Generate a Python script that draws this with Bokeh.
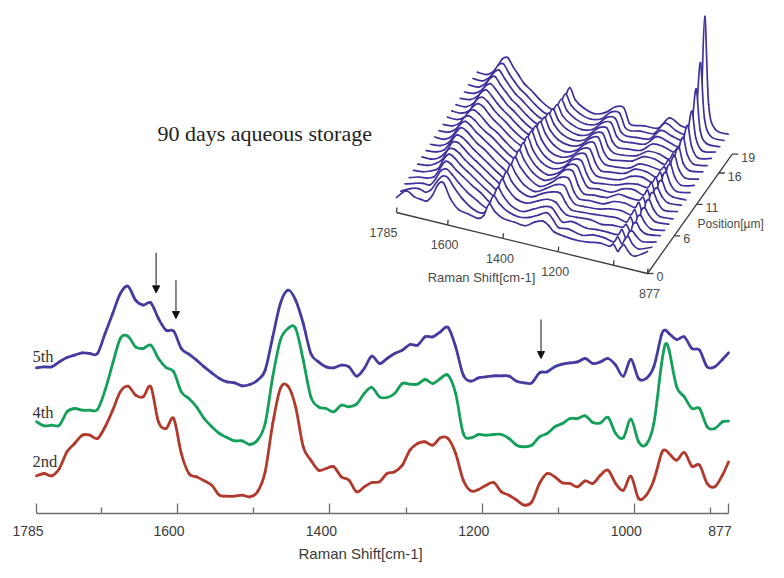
from bokeh.embed import file_html
from bokeh.resources import INLINE
from bokeh.plotting import figure
from bokeh.models import (Range1d, LinearAxis, FixedTicker, Label, Arrow, NormalHead, Title)

# ---------- main spectra ----------
shift = [1785,1775,1765,1755,1745,1735,1725,1715,1705,1695,1685,1675,1665,1655,1645,1635,1625,1615,1605,1595,
         1585,1575,1565,1555,1545,1535,1525,1515,1505,1495,1485,1475,1465,1455,1445,1435,1425,1415,1405,1395,
         1385,1375,1365,1355,1345,1335,1325,1315,1305,1295,1285,1275,1265,1255,1245,1235,1225,1215,1205,1195,
         1185,1175,1165,1155,1145,1135,1125,1115,1105,1095,1085,1075,1065,1055,1045,1035,1025,1015,1005,995,
         985,975,965,960,955,945,935,925,915,905,895,885,877]
y_5th = [437,440,440,455,468,475,482,480,480,540,600,660,682,640,625,632,585,550,547,495,
         478,460,440,422,405,395,392,383,387,400,430,530,630,670,640,570,480,455,440,437,
         445,440,412,435,472,450,465,480,490,507,505,530,530,545,558,500,415,397,407,
         410,413,413,412,397,392,392,422,425,440,448,452,455,465,450,455,465,445,412,462,
         405,405,440,535,550,540,522,530,495,490,440,440,462,482]
y_4th = [275,263,265,265,305,315,310,310,312,370,450,525,532,500,495,505,465,438,425,365,
         345,320,285,260,240,228,218,218,207,220,270,410,520,555,555,460,350,320,315,305,
         325,320,328,360,378,350,348,360,390,388,388,402,390,405,415,360,240,227,237,
         235,237,237,225,205,200,205,230,240,260,270,285,285,293,273,272,288,240,227,283,
         215,207,270,447,507,490,380,350,315,315,260,255,275,277]
y_2nd = [113,120,113,135,185,210,235,235,225,260,310,365,382,355,350,380,275,255,285,180,
         120,110,98,85,55,52,52,55,50,65,125,270,375,382,320,200,160,130,135,140,
         110,100,65,80,93,95,120,125,145,190,210,215,205,227,225,180,100,68,72,85,
         93,65,55,40,25,35,90,120,110,92,90,80,98,90,115,130,90,70,112,45,
         55,100,180,190,180,160,183,142,145,90,80,115,155]
series_names = ["5th", "4th", "2nd"]
series_data = [y_5th, y_4th, y_2nd]
series_colors = ["#453c9f", "#14a05a", "#b23a2c"]
series_label_y = [356, 412, 461]
series_label_x = [32, 32, 32]

tick_major = [1785, 1600, 1400, 1200, 1000, 877]
tick_minor = [1700, 1500, 1300, 1100, 900]

# arrows: shift, intensity at tail and at tip
arrow_shift = [1628, 1602, 1123]
arrow_from = [782, 700, 582]
arrow_to = [662, 585, 465]

# ---------- inset waterfall: intensity by position (front to back) ----------
w_shift = [1785,1750,1720,1695,1675,1655,1635,1615,1590,1560,1525,1490,1470,1450,1430,1400,1360,1320,1285,1255,
           1235,1215,1180,1130,1090,1050,1015,1000,985,975,962,948,925,877]
w_rows = [
 [15,24,20,19,19,26,38,41,27,18,16,14,18,31,25,20,19,18,24,27,24,19,17,16,17,19,18,21,15,19,23,18,14,22],
 [15,20,22,20,24,33,40,40,31,22,15,13,19,33,27,21,18,20,25,29,24,17,18,15,18,18,16,22,16,21,25,19,15,20],
 [16,19,21,21,28,38,41,37,30,23,17,12,20,35,28,20,17,22,27,28,22,16,19,16,17,17,17,23,15,22,24,20,16,19],
 [16,19,20,23,32,41,40,35,30,24,18,11,21,37,29,21,19,24,28,27,21,17,17,18,16,18,18,22,16,24,26,20,17,19],
 [17,18,21,25,36,42,39,34,29,23,16,11,22,38,30,22,19,25,29,30,22,16,16,17,18,19,17,23,15,25,27,21,16,18],
 [17,18,22,28,39,41,38,33,28,22,15,10,23,39,31,22,18,24,30,31,21,15,15,16,19,20,18,24,14,26,28,22,17,18],
 [18,18,22,30,40,41,37,32,27,21,14,9,24,40,32,23,17,23,31,32,20,14,15,15,20,21,19,25,13,27,30,22,16,17],
 [18,19,23,33,41,40,36,31,26,20,13,9,25,41,32,22,17,22,32,33,20,13,14,15,21,20,20,24,14,28,31,23,16,18],
 [18,19,24,35,42,40,35,30,26,19,12,8,26,42,31,21,16,21,31,32,21,13,14,14,20,22,19,25,14,27,29,22,17,18],
 [19,19,25,37,42,39,34,30,25,19,12,8,27,42,30,20,16,20,30,31,19,12,13,15,19,21,20,26,13,28,30,21,17,17],
 [19,20,26,38,41,38,33,29,25,18,11,9,28,41,29,19,15,20,29,31,18,12,12,14,20,22,19,25,13,29,32,22,16,18],
 [19,20,26,37,41,38,33,28,24,17,10,9,27,40,28,18,15,19,28,30,18,11,12,14,21,21,18,24,13,30,34,23,16,19],
 [20,20,25,36,41,39,33,28,23,16,10,8,26,38,27,18,14,18,27,30,17,11,11,13,20,20,19,23,14,31,36,24,17,19],
 [20,20,25,37,41,38,32,27,22,15,9,8,24,36,25,17,14,17,26,29,16,10,11,14,21,21,18,24,14,33,38,24,18,20],
 [20,20,26,38,42,37,31,26,21,14,8,8,22,34,24,16,13,16,25,27,15,10,10,13,20,20,17,23,14,35,42,26,18,20],
 [20,21,27,38,42,37,31,25,20,13,7,7,20,32,22,15,12,15,24,26,14,9,10,12,21,21,18,22,14,36,48,28,18,21],
 [20,21,27,39,43,36,30,24,19,12,6,6,18,30,20,14,11,14,23,25,13,9,10,12,22,20,17,21,15,38,56,30,19,21],
 [21,21,28,39,43,36,29,23,18,11,5,5,17,29,19,13,10,13,22,23,11,8,9,11,22,19,17,20,15,42,72,32,20,20],
 [21,21,28,40,43,35,28,22,17,10,4,4,16,28,18,12,9,12,21,22,9,7,9,10,23,18,16,19,16,48,92,38,21,20],
 [21,21,28,40,43,35,28,21,16,9,3,3,15,28,17,11,8,12,20,21,7,6,8,9,22,17,16,18,17,40,132,45,22,20],
]
inset_shift_ticks = [1785, 1600, 1400, 1200, 1000, 877]
inset_shift_labels = ["1785", "1600", "1400", "1200", "", "877"]
inset_pos_ticks = [0, 6, 11, 16, 19]

PX_PER_CM = 692 / 908
W, H, AXIS_PX = 784, 578, 513

p = figure(width=W, height=H, output_backend="svg", toolbar_location=None,
           min_border_left=0, min_border_right=0, min_border_top=0, min_border_bottom=H - AXIS_PX,
           x_range=Range1d(1785 + 36 / PX_PER_CM, 877 - (W - 728) / PX_PER_CM),
           y_range=Range1d(0, AXIS_PX * 3), x_axis_type=None, y_axis_type=None)
p.outline_line_color = None
p.grid.visible = False
p.background_fill_color = "#ffffff"
p.extra_x_ranges["sx"] = Range1d(0, W)
p.extra_y_ranges["sy"] = Range1d(AXIS_PX, 0)

# main axis: tick marks
ax = LinearAxis(ticker=FixedTicker(ticks=tick_major, minor_ticks=tick_minor), bounds=(877, 1785))
ax.major_tick_in, ax.major_tick_out = 10, 0
ax.minor_tick_in, ax.minor_tick_out = 6, 0
ax.axis_line_color = ax.major_tick_line_color = ax.minor_tick_line_color = "#6e6e6e"
ax.axis_line_width = ax.major_tick_line_width = ax.minor_tick_line_width = 1.3
ax.major_label_overrides = {t: "" for t in tick_major}
ax.major_label_standoff = 0
ax.major_label_text_font_size = "1px"
p.add_layout(ax, "below")

# main axis: labels, which sit a little left of their ticks in the reference
LABEL_SHIFT = 8.5 / PX_PER_CM
ax2_ticks = [t + LABEL_SHIFT for t in tick_major]
ax2 = LinearAxis(ticker=FixedTicker(ticks=ax2_ticks))
ax2.major_label_overrides = {a: str(t) for a, t in zip(ax2_ticks, tick_major)}
ax2.axis_line_color = None
ax2.major_tick_line_color = None
ax2.minor_tick_line_color = None
ax2.major_tick_in = ax2.major_tick_out = 0
ax2.major_label_standoff = 12
ax2.major_label_text_font = "Liberation Sans"
ax2.major_label_text_font_size = "14px"
ax2.major_label_text_color = "#3a3a3a"
p.add_layout(ax2, "below")

p.add_layout(Title(text="Raman Shift[cm-1]", align="left", offset=298, standoff=9,
                   text_font="Liberation Sans", text_font_size="15px", text_font_style="normal",
                   text_color="#3a3a3a"), "below")


def smooth(xs, ys):
    """Cubic segments through the given points, so that lines are drawn as curves."""
    n = len(xs)
    x0, y0, x1, y1, cx0, cy0, cx1, cy1 = [], [], [], [], [], [], [], []
    for i in range(n - 1):
        a = max(i - 1, 0); d = min(i + 2, n - 1)
        x0.append(xs[i]); y0.append(ys[i]); x1.append(xs[i + 1]); y1.append(ys[i + 1])
        cx0.append(xs[i] + (xs[i + 1] - xs[a]) / 6); cy0.append(ys[i] + (ys[i + 1] - ys[a]) / 6)
        cx1.append(xs[i + 1] - (xs[d] - xs[i]) / 6); cy1.append(ys[i + 1] - (ys[d] - ys[i]) / 6)
    return dict(x0=x0, y0=y0, x1=x1, y1=y1, cx0=cx0, cy0=cy0, cx1=cx1, cy1=cy1)


# main spectra
for data, color in zip(series_data, series_colors):
    assert len(data) == len(shift)
    p.bezier(**smooth(shift, data), line_color=color, line_width=2.8, line_cap="round")

# arrows
for s, a, b in zip(arrow_shift, arrow_from, arrow_to):
    p.add_layout(Arrow(end=NormalHead(size=7, fill_color="#111111", line_color="#111111"),
                       x_start=s, y_start=a, x_end=s, y_end=b,
                       line_color="#555555", line_width=1.4))


# inset projection
def proj(s, pos, intensity=0, dx=4.25):
    f = (1785 - s) / 908
    return 396 + f * 251 + pos * dx, 212 + f * 61 - pos * 6.28 - intensity


SCENE = dict(x_range_name="sx", y_range_name="sy")
for i in range(len(w_rows) - 1, -1, -1):
    row = w_rows[i]
    top = [proj(s, i, v) for s, v in zip(w_shift, row)]
    base = [proj(s, i, 0) for s in reversed(w_shift)]
    p.patch([q[0] for q in top + base], [q[1] for q in top + base],
            fill_color="#ffffff", line_color=None, **SCENE)
    p.bezier(**smooth([q[0] for q in top], [q[1] for q in top]), line_color="#3e319c",
             line_width=1.7, line_cap="round", **SCENE)

# inset axes
axis_col = "#3c3c3c"
a0 = proj(1785, 0, 0, 4.46); a1 = proj(877, 0, 0, 4.46); a2 = proj(877, 19, 0, 4.46)
p.line([a0[0], a1[0], a2[0]], [a0[1], a1[1], a2[1]], line_color=axis_col, line_width=1.3, **SCENE)
for s in inset_shift_ticks:
    q = proj(s, 0, 0, 4.46)
    p.segment([q[0]], [q[1]], [q[0] + 0.5], [q[1] - 5], line_color=axis_col, line_width=1.3, **SCENE)
for k in inset_pos_ticks:
    q = proj(877, k, 0, 4.46)
    p.segment([q[0]], [q[1]], [q[0] + 6], [q[1]], line_color=axis_col, line_width=1.3, **SCENE)


# texts
def text(x, y, s, size, font="Liberation Sans", color="#3a3a3a", align="center"):
    p.add_layout(Label(x=x, y=y, text=s, text_font=font, text_font_size=size, text_color=color,
                       text_align=align, text_baseline="middle", x_range_name="sx", y_range_name="sy"))


text(157, 133, "90 days aqueous storage", "22px", "Liberation Serif", "#222222", "left")
for name, ly, lx in zip(series_names, series_label_y, series_label_x):
    text(lx, ly, name, "16.5px", "Liberation Serif", "#333333", "left")

for s, lab in zip(inset_shift_ticks, inset_shift_labels):
    if lab:
        q = proj(s, 0, 0, 4.46)
        text(q[0] + (-13 if s == 1785 else 2 if s == 877 else -3), q[1] + 20, lab, "12.5px", color="#4a4a4a")
for k in inset_pos_ticks:
    q = proj(877, k, 0, 4.46)
    text(q[0] + 9, q[1] + 3, str(k), "12.5px", color="#4a4a4a", align="left")
text(481, 277, "Raman Shift[cm-1]", "13px", color="#4a4a4a")
text(697, 223, "Position[µm]", "12px", color="#4a4a4a", align="left")

open("out.html", "w").write(file_html(p, INLINE))
